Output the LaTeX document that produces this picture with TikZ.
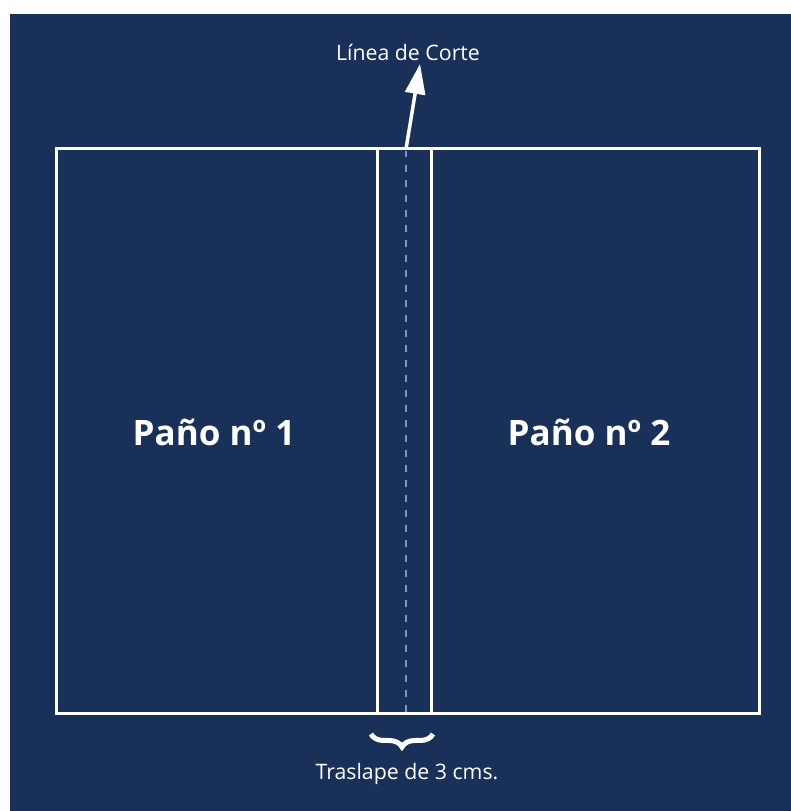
\documentclass[tikz,border=0pt]{standalone}
\usepackage{fontspec}
\setmainfont{Open Sans}
\usetikzlibrary{arrows.meta,decorations.pathreplacing}
\definecolor{fondo}{RGB}{25,48,89}
\definecolor{corte}{RGB}{122,152,192}
\tikzset{
    pano/.style={draw=white,line width=3pt},
    rotulo/.style={text=white,font=\fontsize{21.3}{25}\selectfont},
    titulo/.style={text=white,font=\fontsize{35}{40}\selectfont\bfseries}
}
\begin{document}
\begin{tikzpicture}[x=1pt,y=1pt]
        \useasboundingbox (0,0) rectangle (791,811);
        \fill[fondo] (10,0) rectangle (791,797);
        % panos y traslape
        \draw[pano] (56,97) rectangle (759,662);
        \draw[pano] (377,97) --++ (0,565);
        \draw[pano] (431,97) --++ (0,565);
        \draw[corte,line width=2.5pt,dash pattern=on 7pt off 8pt] (406,99) --++ (0,561);
        \node[titulo] (pano1) at (214,379) {Paño nº 1};
        \node[titulo] (pano2) at (589,379) {Paño nº 2};
        % linea de corte
        \node[rotulo] (linea) at (408,759) {Línea de Corte};
        \coordinate (pie) at (406,662);
        \coordinate (punta) at (420,747);
        \draw[white,line width=3.5pt,-{Triangle[length=30pt,width=20pt]}] (pie) -- (punta);
        % traslape
        \draw[white,line width=5pt,decorate,decoration={brace,mirror,amplitude=13pt}] (371,77) -- (433,77);
        \node[rotulo] (traslape) at (407,37) {Traslape de 3 cms.};
    \end{tikzpicture}
\end{document}
